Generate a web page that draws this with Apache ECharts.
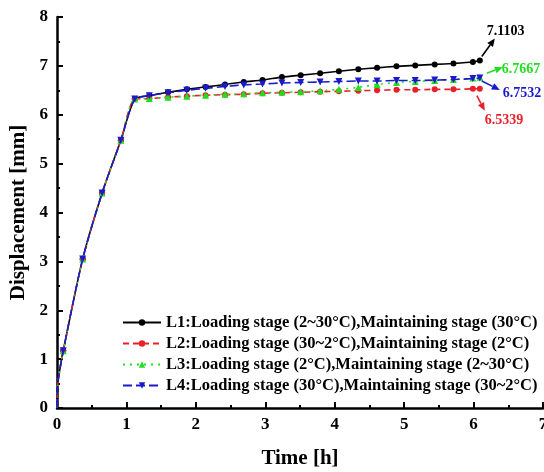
<!DOCTYPE html>
<html>
<head>
<meta charset="utf-8">
<script src="https://cdn.jsdelivr.net/npm/echarts@6/dist/echarts.min.js"></script>
<style>html,body{margin:0;padding:0;background:#fff}#c{width:544px;height:472px}</style>
</head>
<body>
<div id="c"></div>
<script>
// Time [h]
var timeH = [0, 0.005, 0.02, 0.09, 0.37, 0.65, 0.92, 1.12, 1.33, 1.60, 1.87, 2.14, 2.42, 2.69, 2.96, 3.24, 3.51, 3.79, 4.06, 4.34, 4.61, 4.89, 5.16, 5.44, 5.71, 5.99, 6.09];
// Displacement [mm]
var L1 = [0, 0.3, 0.6, 1.17, 3.05, 4.40, 5.48, 6.32, 6.39, 6.46, 6.52, 6.57, 6.62, 6.67, 6.71, 6.77, 6.81, 6.85, 6.89, 6.93, 6.96, 6.99, 7.01, 7.03, 7.05, 7.08, 7.1103];
var L2 = [0, 0.3, 0.6, 1.17, 3.05, 4.40, 5.48, 6.32, 6.33, 6.36, 6.38, 6.40, 6.41, 6.42, 6.44, 6.45, 6.46, 6.47, 6.48, 6.49, 6.50, 6.51, 6.51, 6.52, 6.52, 6.53, 6.5339];
var L3 = [0, 0.3, 0.6, 1.17, 3.05, 4.40, 5.48, 6.32, 6.33, 6.36, 6.38, 6.40, 6.42, 6.43, 6.45, 6.46, 6.47, 6.49, 6.52, 6.56, 6.62, 6.66, 6.68, 6.70, 6.72, 6.75, 6.7667];
var L4 = [0, 0.3, 0.6, 1.17, 3.05, 4.40, 5.48, 6.32, 6.39, 6.45, 6.50, 6.54, 6.58, 6.61, 6.63, 6.65, 6.66, 6.67, 6.68, 6.69, 6.69, 6.70, 6.70, 6.71, 6.72, 6.74, 6.7532];
var names = [
  'L1:Loading stage (2~30°C),Maintaining stage (30°C)',
  'L2:Loading stage (30~2°C),Maintaining stage (2°C)',
  'L3:Loading stage (2°C),Maintaining stage (2~30°C)',
  'L4:Loading stage (30°C),Maintaining stage (30~2°C)'
];
var endLabels = ['7.1103', '6.5339', '6.7667', '6.7532'];
var xTicks = [0, 1, 2, 3, 4, 5, 6, 7];
var yTicks = [0, 1, 2, 3, 4, 5, 6, 7, 8];

var FONT = 'Liberation Serif';
var colors = ['#000000', '#e8202a', '#22dd22', '#1a1acc'];
var symbols = ['circle', 'circle', 'triangle', 'triangle'];
var rotates = [0, 0, 0, 180];
var dashes = ['solid', [6, 4], [2, 5], [9, 4]];
var allY = [L1, L2, L3, L4];

function buildData(ys) {
  return timeH.map(function (t, i) {
    var d = { value: [t, ys[i]] };
    if (i < 3) d.symbol = 'none';
    return d;
  });
}

var series = allY.map(function (ys, k) {
  return {
    name: names[k],
    type: 'line',
    data: buildData(ys),
    smooth: 0.25,
    symbol: symbols[k],
    symbolRotate: rotates[k],
    symbolSize: k >= 2 ? 7 : 6,
    showAllSymbol: true,
    lineStyle: { color: colors[k], width: 1.6, type: dashes[k] },
    itemStyle: { color: colors[k] },
    z: 2 + k
  };
});

var chart = echarts.init(document.getElementById('c'), null, { renderer: 'canvas' });
var axisCommon = {
  axisLine: { lineStyle: { color: '#000', width: 2.5 } },
  axisTick: { inside: true, length: 6, lineStyle: { color: '#000', width: 2 } },
  minorTick: { show: true, splitNumber: 2, length: 3, lineStyle: { color: '#000', width: 2 } },
  splitLine: { show: false },
  axisLabel: { color: '#000', fontFamily: FONT, fontWeight: 'bold', fontSize: 17 },
  nameTextStyle: { color: '#000', fontFamily: FONT, fontWeight: 'bold', fontSize: 21 }
};
chart.setOption({
  animation: false,
  grid: { left: 57, right: 1, top: 17, bottom: 64, containLabel: false, outerBoundsMode: 'none' },
  xAxis: Object.assign({}, axisCommon, {
    type: 'value', min: xTicks[0], max: xTicks[xTicks.length - 1], interval: 1,
    name: 'Time [h]', nameLocation: 'middle', nameGap: 40,
    axisLabel: Object.assign({}, axisCommon.axisLabel, { margin: 8 })
  }),
  yAxis: Object.assign({}, axisCommon, {
    type: 'value', min: yTicks[0], max: yTicks[yTicks.length - 1], interval: 1,
    name: 'Displacement [mm]', nameLocation: 'middle', nameGap: 26,
    axisLabel: Object.assign({}, axisCommon.axisLabel, { margin: 9 })
  }),
  legend: {
    orient: 'vertical', left: 117, top: 309,
    itemWidth: 38, itemHeight: 8, itemGap: 4,
    textStyle: { color: '#000', fontFamily: FONT, fontWeight: 'bold', fontSize: 16.5 },
    data: names
  },
  series: series
});

// end-value annotations with arrows
var offsets = [
  { a: [2, -4, 15, -22], t: [7, -29] },
  { a: [-3, 7, 5, 22], t: [5, 32] },
  { a: [7, -4, 23, -10], t: [22, -8] },
  { a: [2, 3, 20, 12], t: [23, 15] }
];
var graphics = [];
function arrow(x1, y1, x2, y2, color) {
  var dx = x2 - x1, dy = y2 - y1, L = Math.sqrt(dx * dx + dy * dy);
  var ux = dx / L, uy = dy / L, hl = 8, hw = 3.5;
  var bx = x2 - ux * hl, by = y2 - uy * hl;
  graphics.push({ type: 'line', shape: { x1: x1, y1: y1, x2: bx, y2: by }, style: { stroke: color, lineWidth: 1.6 }, z: 20 });
  graphics.push({ type: 'polygon', shape: { points: [[x2, y2], [bx - uy * hw, by + ux * hw], [bx + uy * hw, by - ux * hw]] }, style: { fill: color }, z: 20 });
}
allY.forEach(function (ys, k) {
  var n = ys.length - 1;
  var p = chart.convertToPixel({ gridIndex: 0 }, [timeH[n], ys[n]]);
  var o = offsets[k];
  arrow(p[0] + o.a[0], p[1] + o.a[1], p[0] + o.a[2], p[1] + o.a[3], colors[k]);
  graphics.push({
    type: 'text', x: p[0] + o.t[0], y: p[1] + o.t[1], z: 20,
    style: { text: endLabels[k], fill: colors[k], font: 'bold 14px "Liberation Serif"', textVerticalAlign: 'middle', verticalAlign: 'middle' }
  });
});
chart.setOption({ graphic: graphics });
</script>
</body>
</html>
